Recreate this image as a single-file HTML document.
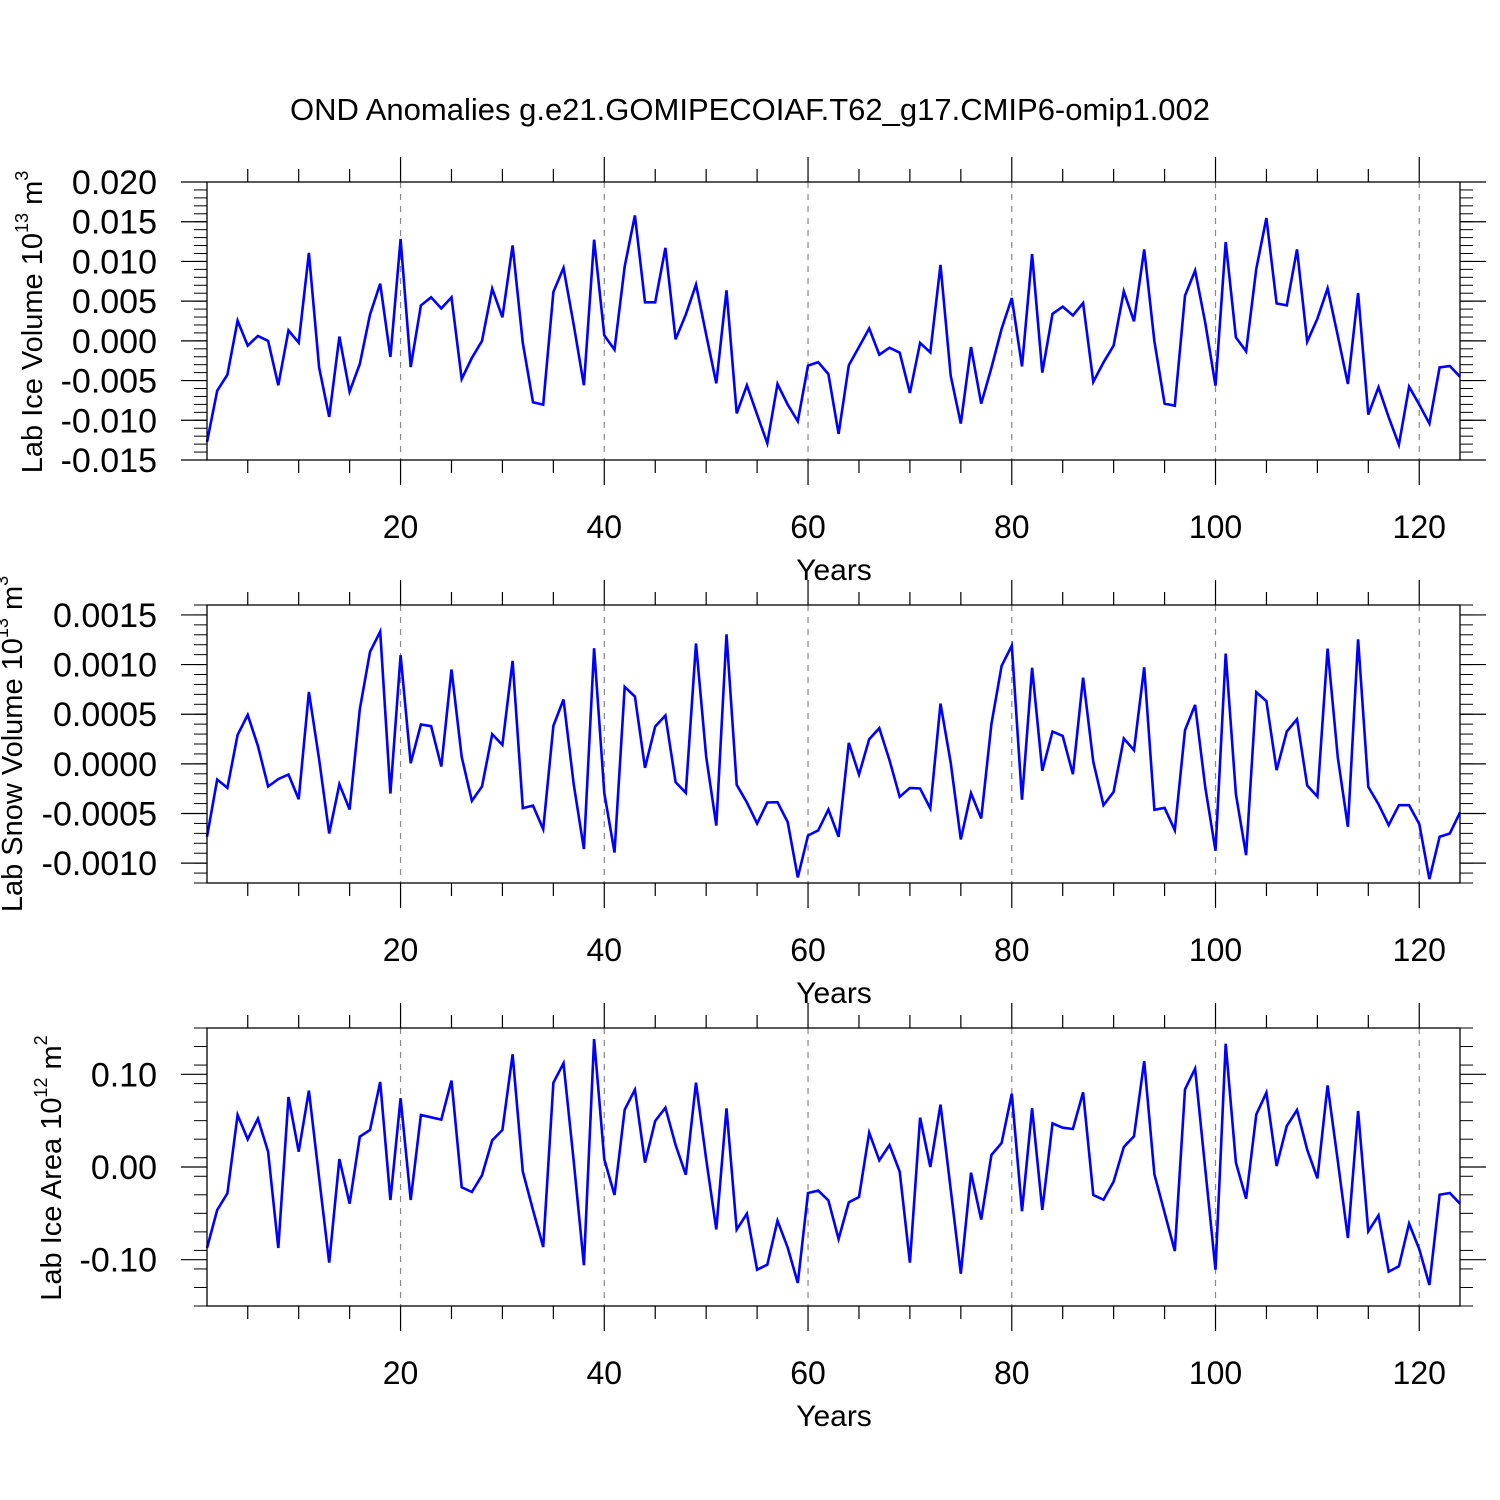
<!DOCTYPE html>
<html><head><meta charset="utf-8"><style>
html,body{margin:0;padding:0;background:#fff;}
svg{display:block;font-family:"Liberation Sans",sans-serif;}
</style></head><body>
<svg id="chart" width="1500" height="1500" viewBox="0 0 1500 1500" xmlns="http://www.w3.org/2000/svg">
<rect width="1500" height="1500" fill="#fff"/>
<text x="750" y="120" font-size="31" text-anchor="middle">OND Anomalies g.e21.GOMIPECOIAF.T62_g17.CMIP6-omip1.002</text>
</svg>
<script>
const iceVolume = [-0.01273,-0.00627,-0.00426,0.00254,-0.00060,0.00062,-0.00001,-0.00560,0.00132,-0.00023,
0.01107,-0.00334,-0.00958,0.00053,-0.00640,-0.00291,0.00330,0.00720,-0.00203,0.01283,
-0.00329,0.00447,0.00548,0.00409,0.00548,-0.00480,-0.00215,0.00000,0.00657,0.00296,
0.01202,-0.00026,-0.00774,-0.00803,0.00616,0.00918,0.00204,-0.00560,0.01274,0.00069,
-0.00111,0.00938,0.01580,0.00485,0.00485,0.01170,0.00019,0.00330,0.00708,0.00078,
-0.00535,0.00636,-0.00913,-0.00560,-0.00929,-0.01290,-0.00543,-0.00803,-0.01013,-0.00312,
-0.00268,-0.00419,-0.01172,-0.00308,-0.00077,0.00157,-0.00174,-0.00086,-0.00149,-0.00656,
-0.00026,-0.00145,0.00956,-0.00438,-0.01042,-0.00077,-0.00791,-0.00341,0.00150,0.00540,
-0.00321,0.01094,-0.00400,0.00339,0.00431,0.00321,0.00477,-0.00517,-0.00271,-0.00060,
0.00623,0.00246,0.01152,-0.00006,-0.00791,-0.00816,0.00569,0.00884,0.00225,-0.00564,
0.01245,0.00044,-0.00132,0.00909,0.01547,0.00472,0.00447,0.01152,-0.00010,0.00280,
0.00661,0.00062,-0.00543,0.00603,-0.00929,-0.00585,-0.00963,-0.01307,-0.00577,-0.00803,
-0.01042,-0.00334,-0.00316,-0.00451];
const snowVolume = [-0.000735,-0.000158,-0.000242,0.000292,0.000493,0.000181,-0.000228,-0.000154,-0.000107,-0.000356,
0.000725,0.000047,-0.000701,-0.000205,-0.000460,0.000550,0.001128,0.001332,-0.000299,0.001094,
0.000007,0.000396,0.000379,-0.000027,0.000950,0.000070,-0.000373,-0.000228,0.000299,0.000191,
0.001037,-0.000446,-0.000420,-0.000658,0.000383,0.000648,-0.000205,-0.000859,0.001165,-0.000295,
-0.000893,0.000775,0.000678,-0.000040,0.000376,0.000487,-0.000185,-0.000292,0.001212,0.000070,
-0.000621,0.001305,-0.000211,-0.000389,-0.000601,-0.000389,-0.000386,-0.000587,-0.001144,-0.000722,
-0.000670,-0.000460,-0.000735,0.000211,-0.000107,0.000248,0.000359,0.000037,-0.000332,-0.000242,
-0.000248,-0.000450,0.000607,0.000013,-0.000762,-0.000295,-0.000550,0.000399,0.000987,0.001191,
-0.000362,0.000967,-0.000070,0.000326,0.000282,-0.000104,0.000869,0.000020,-0.000416,-0.000282,
0.000255,0.000138,0.000973,-0.000463,-0.000443,-0.000668,0.000339,0.000594,-0.000238,-0.000876,
0.001111,-0.000305,-0.000920,0.000722,0.000631,-0.000064,0.000326,0.000450,-0.000218,-0.000329,
0.001161,0.000064,-0.000634,0.001255,-0.000232,-0.000406,-0.000617,-0.000416,-0.000416,-0.000607,
-0.001161,-0.000735,-0.000701,-0.000490];
const iceArea = [-0.0874,-0.0464,-0.0284,0.0561,0.0299,0.0522,0.0165,-0.0874,0.0755,0.0165,
0.0824,-0.0115,-0.1032,0.0086,-0.0396,0.0327,0.0399,0.0917,-0.0356,0.0741,
-0.0356,0.0561,0.0536,0.0511,0.0932,-0.0219,-0.0270,-0.0090,0.0288,0.0399,
0.1216,-0.0050,-0.0464,-0.0863,0.0910,0.1119,0.0065,-0.1061,0.1381,0.0083,
-0.0302,0.0619,0.0834,0.0047,0.0496,0.0640,0.0237,-0.0083,0.0910,0.0083,
-0.0673,0.0633,-0.0676,-0.0504,-0.1108,-0.1054,-0.0579,-0.0870,-0.1252,-0.0281,
-0.0255,-0.0360,-0.0777,-0.0381,-0.0324,0.0370,0.0072,0.0237,-0.0050,-0.1032,
0.0532,0.0000,0.0673,-0.0241,-0.1151,-0.0061,-0.0568,0.0129,0.0259,0.0791,
-0.0478,0.0633,-0.0464,0.0471,0.0424,0.0410,0.0806,-0.0302,-0.0353,-0.0158,
0.0216,0.0331,0.1144,-0.0079,-0.0493,-0.0906,0.0838,0.1061,-0.0025,-0.1108,
0.1331,0.0047,-0.0342,0.0568,0.0802,0.0011,0.0442,0.0615,0.0187,-0.0122,
0.0881,0.0065,-0.0766,0.0604,-0.0694,-0.0522,-0.1129,-0.1072,-0.0611,-0.0888,
-0.1273,-0.0299,-0.0281,-0.0396];
const xTickLabels = [20,40,60,80,100,120];
const iceVolTicks = [-0.015,-0.010,-0.005,0.000,0.005,0.010,0.015,0.020];
const snowVolTicks = [-0.0010,-0.0005,0.0000,0.0005,0.0010,0.0015];
const iceAreaTicks = [-0.10,0.00,0.10];

const NS="http://www.w3.org/2000/svg";
const svg=document.getElementById('chart');
function mk(tag,attrs,parent){const e=document.createElementNS(NS,tag);for(const k in attrs)e.setAttribute(k,attrs[k]);(parent||svg).appendChild(e);return e;}

const X0=207,X1=1460,XMIN=1,XMAX=124;
function xs(v){return X0+(v-XMIN)/(XMAX-XMIN)*(X1-X0);}

const panels=[
 {key:'ice-volume',data:iceVolume,ticks:iceVolTicks,top:182,bot:460,min:-0.015,max:0.020,minor:0.001,dec:3,
  lx:33,ly:322,label:'Lab Ice Volume 10',sup1:'13',unit:' m',sup2:'3'},
 {key:'snow-volume',data:snowVolume,ticks:snowVolTicks,top:605,bot:883,min:-0.0012,max:0.0016,minor:0.0001,dec:4,
  lx:13,ly:744,label:'Lab Snow Volume 10',sup1:'13',unit:' m',sup2:'3'},
 {key:'ice-area',data:iceArea,ticks:iceAreaTicks,top:1028,bot:1306,min:-0.15,max:0.15,minor:0.02,dec:2,
  lx:52,ly:1168,label:'Lab Ice Area 10',sup1:'12',unit:' m',sup2:'2'}
];

panels.forEach(p=>{
 const g=mk('g',{});
 
 
 const ys=v=>p.bot-(v-p.min)/(p.max-p.min)*(p.bot-p.top);
 xTickLabels.forEach(t=>{
  const l=mk('line',{x1:xs(t),x2:xs(t),y1:p.top,y2:p.bot,stroke:'#888','stroke-width':1.2,'stroke-dasharray':'6,6'},g);
  
  
 });
 for(let t=5;t<=120;t+=5){
  const major=t%20===0, len=major?25:13, x=xs(t);
  mk('line',{x1:x,x2:x,y1:p.top,y2:p.top-len,stroke:'#000','stroke-width':1.2},g);
  mk('line',{x1:x,x2:x,y1:p.bot,y2:p.bot+len,stroke:'#000','stroke-width':1.2},g);
 }
 const nMin=Math.round((p.max-p.min)/p.minor);
 for(let i=0;i<=nMin;i++){
  const v=p.min+i*p.minor, y=ys(v);
  mk('line',{x1:X0-13,x2:X0,y1:y,y2:y,stroke:'#000','stroke-width':1},g);
  mk('line',{x1:X1,x2:X1+13,y1:y,y2:y,stroke:'#000','stroke-width':1},g);
 }
 p.ticks.forEach(v=>{
  const y=ys(v);
  mk('line',{x1:X0-26,x2:X0,y1:y,y2:y,stroke:'#000','stroke-width':1.2},g);
  mk('line',{x1:X1,x2:X1+26,y1:y,y2:y,stroke:'#000','stroke-width':1.2},g);
  const t=mk('text',{x:157,y:y+12,'font-size':34,'text-anchor':'end'},g);
  t.textContent=v.toFixed(p.dec);
  
  
 });
 xTickLabels.forEach(v=>{
  const t=mk('text',{x:xs(v),y:p.bot+78,'font-size':32,'text-anchor':'middle'},g);
  t.textContent=v;
  
  
 });
 const xt=mk('text',{x:834,y:p.bot+120,'font-size':30,'text-anchor':'middle'},g);
 xt.textContent='Years';
 
 
 const yt=mk('text',{x:0,y:0,'font-size':29,'text-anchor':'middle','dominant-baseline':'central',transform:`translate(${p.lx},${p.ly}) rotate(-90)`},g);
 
 
 const a=mk('tspan',{},yt);a.textContent=p.label;
 const b=mk('tspan',{'font-size':18,dy:-11},yt);b.textContent=p.sup1;
 const c=mk('tspan',{dy:11},yt);c.textContent=p.unit;
 const d=mk('tspan',{'font-size':18,dy:-11},yt);d.textContent=p.sup2;
 const pts=p.data.map((v,i)=>xs(i+1).toFixed(1)+','+ys(v).toFixed(1)).join(' ');
 const pl=mk('polyline',{points:pts,fill:'none',stroke:'#0000ff','stroke-width':2.6,'stroke-linejoin':'miter'},g);
 
 
 const fr=mk('rect',{x:X0,y:p.top,width:X1-X0,height:p.bot-p.top,fill:'none',stroke:'#000','stroke-width':1.3},g);
 
 
});
</script>
</body></html>
